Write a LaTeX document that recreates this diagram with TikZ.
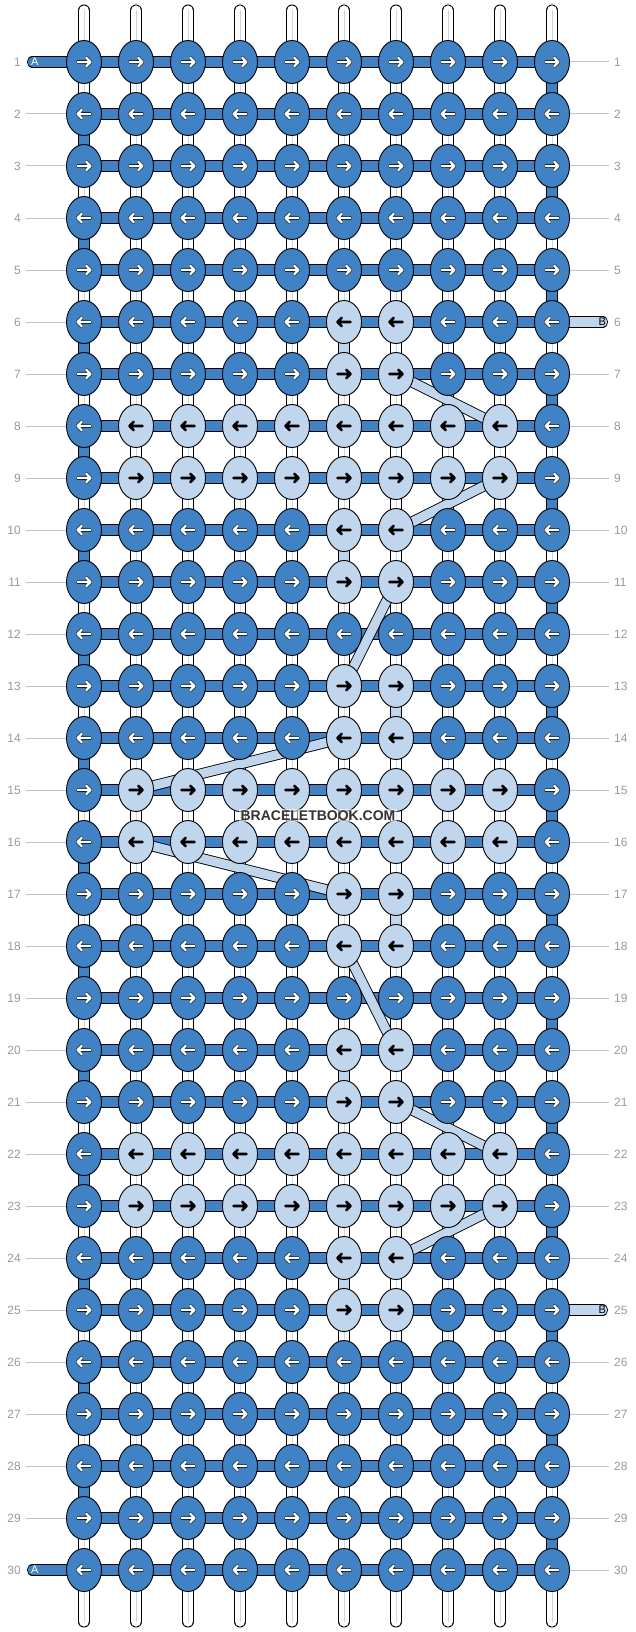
\documentclass[tikz,border=0pt]{standalone}
\usepackage{fontspec}
\setmainfont{Liberation Sans}
\usetikzlibrary{shapes.geometric}
\pgfdeclarelayer{bg}
\pgfsetlayers{bg,main}
\definecolor{dk}{HTML}{3F83C6}
\definecolor{lt}{HTML}{C0D6EC}
\definecolor{lbl}{HTML}{9A9A9A}
\definecolor{gln}{HTML}{C4C4C4}
\definecolor{sgl}{HTML}{D4D4D4}
\definecolor{wm}{HTML}{333333}
\makeatletter
\newcommand\knotval[2]{%
  \def\kv{0}%
  \edef\kvtmp{\noexpand\in@{,#1,}{,6,7,10,11,13,14,17,18,20,21,24,25,}}\kvtmp
  \ifin@ \ifnum#2>5 \ifnum#2<8 \def\kv{1}\fi\fi\fi
  \edef\kvtmp{\noexpand\in@{,#1,}{,8,9,15,16,22,23,}}\kvtmp
  \ifin@ \ifnum#2>1 \ifnum#2<10 \def\kv{1}\fi\fi\fi
}
\makeatother
\tikzset{
  knot/.style={ellipse, draw=black, line width=0.9pt, minimum width=35pt, minimum height=43pt, inner sep=0pt, outer sep=0pt},
  barH/.style={draw=black, line width=0.9pt, double=dk, double distance=9.4pt},
  segW/.style={draw=black, line width=0.9pt, double=white, double distance=10.2pt},
  segD/.style={draw=black, line width=0.9pt, double=dk, double distance=10.2pt},
  segL/.style={draw=black, line width=0.9pt, double=lt, double distance=10.2pt},
  segline/.style={draw=sgl, line width=0.8pt},
  floatband/.style={draw=black, line width=0.9pt, double=lt, double distance=9pt},
  stubA/.style={barH, line cap=round},
  stubB/.style={draw=black, line width=0.9pt, double=lt, double distance=9.4pt, line cap=round},
  arO/.style={draw=black, line width=3.5pt, line cap=round, line join=round},
  arW/.style={draw=white, line width=2.3pt, line cap=round, line join=round},
  arB/.style={draw=black, line width=2.7pt, line cap=round, line join=round},
  rowlblL/.style={anchor=east, inner sep=0pt, text=lbl, font=\fontsize{12pt}{14pt}\selectfont},
  rowlblR/.style={anchor=west, inner sep=0pt, text=lbl, font=\fontsize{12pt}{14pt}\selectfont},
  guide/.style={draw=gln, line width=1pt},
  stublbl/.style={inner sep=0pt, font=\fontsize{11pt}{11pt}\selectfont},
}
\newcommand\arrowpath{(-6.5,0) -- (6.5,0) (2.3,-4.2) -- (6.5,0) -- (2.3,4.2)}
\begin{document}
\begin{tikzpicture}[x=1pt,y=-1pt]
\useasboundingbox (0,0) rectangle (636,1632);
% knots
\foreach \r in {1,...,30}{
  \foreach \c in {1,...,10}{
    \knotval{\r}{\c}
    \ifodd\r\relax \def\dd{1}\else \def\dd{-1}\fi
    \ifnum\kv=1 \def\kf{lt}\else \def\kf{dk}\fi
    \node[knot, fill=\kf] (k-\r-\c) at (84+52*\c-52, 62+52*\r-52) {};
    \begin{scope}[shift={(k-\r-\c.center)}, xscale=\dd]
    \ifnum\kv=1
      \draw[arB] (-6.5,0) -- (6.5,0) (2.3,-4.2) -- (6.5,0) -- (2.3,4.2);
    \else
      \draw[arO] (-6.5,0) -- (6.5,0) (2.3,-4.2) -- (6.5,0) -- (2.3,4.2);
      \draw[arW] (-6.5,0) -- (6.5,0) (2.3,-4.2) -- (6.5,0) -- (2.3,4.2);
    \fi
    \end{scope}
  }
}
% row labels
\foreach \r in {1,...,30}{
  \node[rowlblL] (L-\r) at (21, 62+52*\r-52) {\r};
  \node[rowlblR] (R-\r) at (614, 62+52*\r-52) {\r};
}
% stub labels
\node[stublbl, text=white] (sa-1) at (34.7,62) {A};
\node[stublbl, text=white] (sa-30) at (34.7,1570) {A};
\node[stublbl, text=black] (sb-6) at (602.3,322) {B};
\node[stublbl, text=black] (sb-25) at (602.3,1310) {B};
% watermark
\node[fill=white, fill opacity=0.55, text opacity=1, text=wm, inner sep=1.5pt, font=\bfseries\fontsize{14pt}{14pt}\selectfont] (wmark) at (318,815.5) {BRACELETBOOK.COM};

\begin{pgfonlayer}{bg}
  \fill[white] (0,0) rectangle (636,1632);
  % top and bottom strand ends
  \foreach \c in {1,...,10}{
    \coordinate (t-\c) at (84+52*\c-52, 10.5);
    \coordinate (b-\c) at (84+52*\c-52, 1621.5);
    \draw[segW, line cap=round] (t-\c) -- (k-1-\c.center);
    \draw[segline] (t-\c) -- (k-1-\c.center);
    \draw[segW, line cap=round] (k-30-\c.center) -- (b-\c);
    \draw[segline] (k-30-\c.center) -- (b-\c);
  }
  % vertical segments
  \foreach \r [evaluate=\r as \rr using int(\r+1)] in {1,...,29}{
    \foreach \c in {1,...,10}{
      \draw[segW] (k-\r-\c.center) -- (k-\rr-\c.center);
      \draw[segline] (k-\r-\c.center) -- (k-\rr-\c.center);
    }
  }
  \foreach \r [evaluate=\r as \rr using int(\r+1)] in {2,4,...,28}
    \draw[segD] (k-\r-1.center) -- (k-\rr-1.center);
  \foreach \r [evaluate=\r as \rr using int(\r+1)] in {1,3,...,29}
    \draw[segD] (k-\r-10.center) -- (k-\rr-10.center);
  \foreach \c/\r/\rr in {6/6/7, 6/10/11, 7/13/14, 7/17/18, 6/20/21, 6/24/25}
    \draw[segL] (k-\r-\c.center) -- (k-\rr-\c.center);
  % horizontal bars
  \foreach \r in {1,...,30}{
    \foreach \c [evaluate=\c as \cc using int(\c+1)] in {1,...,9}
      \draw[barH] (k-\r-\c.center) -- (k-\r-\cc.center);
  }
  % stubs
  \coordinate (a-1) at (32.5,62);
  \coordinate (a-30) at (32.5,1570);
  \coordinate (bb-6) at (602.5,322);
  \coordinate (bb-25) at (602.5,1310);
  \draw[stubA] (a-1) -- (k-1-1.center);
  \draw[stubA] (a-30) -- (k-30-1.center);
  \draw[stubB] (k-6-10.center) -- (bb-6);
  \draw[stubB] (k-25-10.center) -- (bb-25);
  % guide lines
  \foreach \r in {2,...,29}
    \draw[guide] ([xshift=5pt]L-\r.east) -- (k-\r-1.west);
  \foreach \r in {1,2,3,4,5,7,8,9,10,11,12,13,14,15,16,17,18,19,20,21,22,23,24,26,27,28,29,30}
    \draw[guide] (k-\r-10.east) -- ([xshift=-5pt]R-\r.west);
  % floats
  \foreach \ra/\ca/\rb/\cb in {7/7/8/9, 9/9/10/7, 11/7/13/6, 14/6/15/2, 16/2/17/6, 18/6/20/7, 21/7/22/9, 23/9/24/7}
    \draw[floatband] (k-\ra-\ca.center) -- (k-\rb-\cb.center);
\end{pgfonlayer}
\end{tikzpicture}
\end{document}
